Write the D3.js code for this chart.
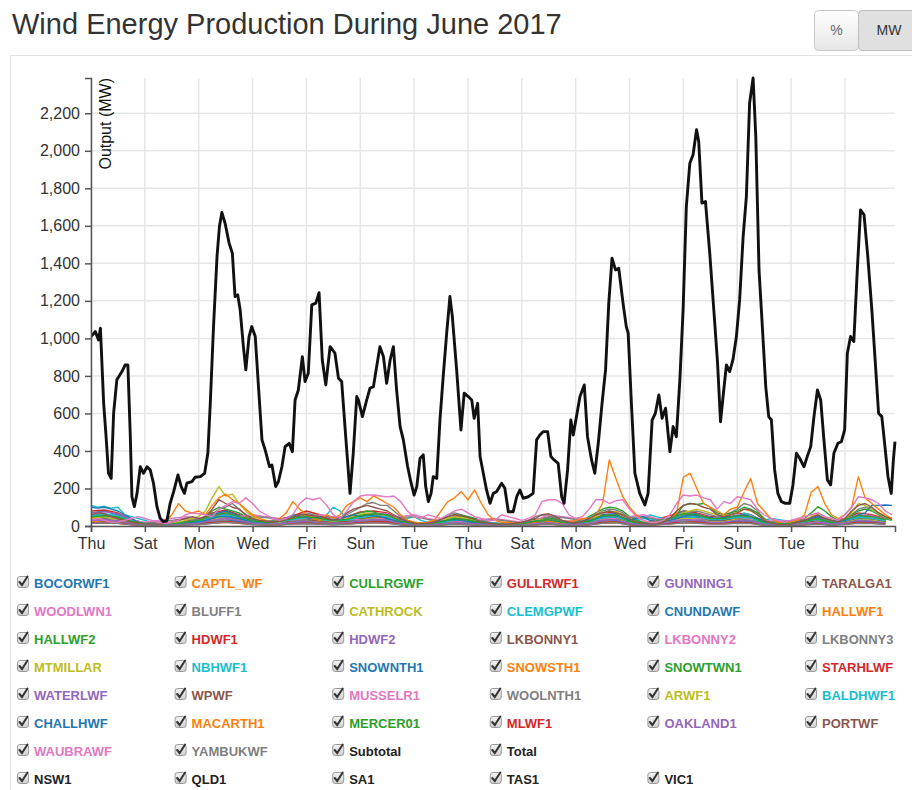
<!DOCTYPE html>
<html>
<head>
<meta charset="utf-8">
<script src="https://cdn.jsdelivr.net/npm/d3@7"></script>
<style>
  html, body { margin: 0; padding: 0; background: #fff; }
  svg { display: block; font-family: "Liberation Sans", Arial, Helvetica, sans-serif; }
</style>
</head>
<body>
<svg id="chart" width="912" height="790"></svg>
<script>
// ---------------- DATA ----------------
const titleText = "Wind Energy Production During June 2017";
const yAxisLabel = "Output (MW)";
const yTickValues = [0, 200, 400, 600, 800, 1000, 1200, 1400, 1600, 1800, 2000, 2200];

// Total output: day offset from 1 June 2017 00:00, and MW
const totalDays = [0.00,0.16,0.28,0.35,0.47,0.56,0.65,0.75,0.84,0.96,1.15,1.27,1.37,1.46,1.52,1.61,1.71,1.83,1.95,2.08,2.20,2.32,2.45,2.57,2.69,2.82,2.94,3.07,3.23,3.35,3.47,3.56,3.75,3.87,4.06,4.22,4.34,4.43,4.55,4.68,4.77,4.86,4.98,5.13,5.25,5.35,5.45,5.54,5.66,5.75,5.87,5.97,6.10,6.22,6.35,6.47,6.63,6.72,6.86,6.96,7.09,7.21,7.36,7.48,7.58,7.70,7.85,7.95,8.07,8.20,8.35,8.47,8.59,8.72,8.88,9.06,9.19,9.31,9.46,9.62,9.74,9.87,9.93,10.08,10.24,10.36,10.49,10.61,10.73,10.86,10.98,11.11,11.23,11.35,11.48,11.60,11.76,11.89,12.00,12.10,12.22,12.34,12.43,12.53,12.63,12.71,12.84,12.96,13.08,13.21,13.33,13.42,13.58,13.74,13.86,14.01,14.14,14.23,14.36,14.45,14.57,14.69,14.82,14.94,15.06,15.25,15.37,15.50,15.68,15.81,15.93,16.05,16.24,16.42,16.55,16.67,16.79,16.96,17.08,17.20,17.35,17.48,17.57,17.70,17.82,17.91,18.03,18.16,18.32,18.44,18.59,18.71,18.84,18.98,19.11,19.23,19.35,19.48,19.60,19.76,19.88,19.95,20.07,20.20,20.38,20.57,20.69,20.84,20.96,21.09,21.21,21.34,21.50,21.62,21.74,21.87,21.99,22.11,22.24,22.36,22.49,22.57,22.69,22.82,22.98,23.14,23.27,23.38,23.50,23.60,23.72,23.84,23.97,24.09,24.22,24.34,24.46,24.59,24.69,24.81,24.94,25.06,25.17,25.27,25.39,25.51,25.64,25.79,25.95,26.07,26.20,26.32,26.48,26.60,26.73,26.85,26.98,27.10,27.22,27.35,27.47,27.59,27.74,27.87,27.99,28.09,28.21,28.33,28.46,28.58,28.71,28.85,29.00,29.13,29.25,29.37,29.50,29.60,29.72,29.80,29.86];
const totalMW = [1010,1036,992,1054,655,476,281,254,602,779,823,859,858,476,156,103,174,316,281,316,299,228,103,41,23,28,121,183,272,210,174,228,237,260,263,281,388,654,1063,1436,1596,1671,1614,1508,1454,1223,1232,1152,956,832,1010,1063,1010,743,459,405,316,325,210,237,316,423,441,396,672,725,903,770,814,1179,1188,1244,885,752,956,921,788,770,476,174,388,690,672,583,672,734,743,850,956,903,761,885,956,725,530,459,316,228,165,210,361,379,210,130,174,263,254,565,796,1028,1223,1116,832,512,708,690,672,574,654,370,281,192,121,174,183,228,201,76,76,156,192,148,156,174,459,485,503,503,370,352,334,156,121,299,565,485,583,690,752,476,352,281,441,654,832,1188,1428,1365,1374,1188,1063,1028,654,281,174,112,174,565,601,699,574,628,396,530,476,779,1152,1703,1934,1979,2112,2050,1721,1730,1454,1134,868,556,725,859,823,885,1010,1205,1543,1756,2254,2388,2076,1365,1045,743,583,565,299,174,130,121,121,219,388,361,316,370,423,583,725,672,459,245,219,388,441,450,512,921,1010,983,1365,1685,1659,1436,1152,868,601,583,405,263,174,352,450];

// Wind farms (legend order). Series span 30 days at an even step (6 h or 12 h).
const farmNames = ["BOCORWF1","CAPTL_WF","CULLRGWF","GULLRWF1","GUNNING1","TARALGA1","WOODLWN1","BLUFF1","CATHROCK","CLEMGPWF","CNUNDAWF","HALLWF1","HALLWF2","HDWF1","HDWF2","LKBONNY1","LKBONNY2","LKBONNY3","MTMILLAR","NBHWF1","SNOWNTH1","SNOWSTH1","SNOWTWN1","STARHLWF","WATERLWF","WPWF","MUSSELR1","WOOLNTH1","ARWF1","BALDHWF1","CHALLHWF","MACARTH1","MERCER01","MLWF1","OAKLAND1","PORTWF","WAUBRAWF","YAMBUKWF"];
const extraNames = ["Subtotal","Total"];
const regionNames = ["NSW1","QLD1","SA1","TAS1","VIC1"];

const BOCORWF1 = [70,80,60,30,15,10,10,20,30,50,60,50,30,20,25,40,50,40,30,40,50,60,55,30,15,15,25,40,35,20,15,10,15,25,35,20,20,30,50,55,30,15,25,40,60,55,40,40,50,45,20,15,15,25,40,20,30,50,45,35];
const CAPTL_WF = [40,50,45,20,10,5,10,20,25,50,60,40,20,15,20,35,40,30,25,30,45,55,50,20,10,10,20,30,25,15,10,5,10,20,30,15,15,20,45,50,20,10,20,35,55,50,35,30,45,40,15,10,10,20,30,15,25,45,40,25];
const CULLRGWF = [20,25,22,10,5,3,4,8,10,20,25,18,10,8,10,15,18,15,12,15,20,24,22,10,5,5,10,15,12,8,5,4,5,10,12,8,8,10,20,22,10,5,10,15,24,22,15,15,20,18,8,5,6,10,15,8,12,20,18,12];
const GULLRWF1 = [80,85,70,35,15,8,12,25,35,70,85,60,35,25,35,55,80,60,45,50,75,80,70,35,15,15,30,50,45,25,15,10,15,35,45,25,25,35,70,75,35,15,35,55,80,70,50,50,70,60,25,15,20,35,55,25,40,70,60,40];
const GUNNING1 = [35,40,30,15,8,5,5,10,15,30,35,25,15,10,15,25,30,25,20,25,30,35,30,15,8,8,15,25,20,12,8,5,8,15,20,12,12,15,30,32,15,8,15,25,35,30,25,22,30,28,12,8,10,15,25,12,20,30,28,20];
const TARALGA1 = [50,60,55,25,12,6,8,18,25,50,55,40,25,18,25,40,45,35,30,35,50,60,55,25,12,12,25,40,30,18,12,8,12,25,30,18,18,25,50,50,25,12,25,40,55,50,40,35,50,45,18,12,15,25,40,18,30,50,45,30];
const WOODLWN1 = [30,35,30,15,10,20,10,15,20,35,40,30,20,15,20,30,35,25,20,25,35,40,35,20,10,10,15,25,20,15,10,8,10,20,25,15,15,20,35,35,20,10,20,30,40,35,30,25,35,30,15,10,10,20,25,15,20,35,30,20];
const BLUFF1 = [30,30,25,12,6,4,5,10,15,30,40,30,15,10,12,20,25,20,18,20,35,40,35,15,6,6,12,20,15,10,6,5,6,15,20,10,10,15,35,35,15,6,15,25,40,35,25,25,35,30,10,6,8,15,25,10,20,35,30,20];
const CATHROCK = [35,40,35,15,8,5,6,12,18,40,60,45,20,15,18,30,35,25,20,25,40,45,40,18,8,8,15,25,20,12,8,6,8,18,25,12,12,18,40,40,18,8,18,30,45,40,30,30,40,35,12,8,10,18,30,12,25,40,35,25];
const CLEMGPWF = [110,100,105,95,100,60,50,40,30,20,10,5,5,10,10,15,20,25,40,60,70,60,50,40,30,20,15,15,20,30,40,50,40,30,40,60,100,80,40,30,40,50,60,50,40,30,20,40,50,30,20,15,20,25,30,25,20,15,10,10,10,15,20,15,10,15,20,25,20,15,15,20,25,20,15,20,30,40,40,35,30,20,40,60,50,40,30,25,30,40,45,40,35,30,30,35,40,70,60,40,30,40,35,30,25,20,25,30,35,30,25,30,35,40,50,45,40,35,40,30];
const CNUNDAWF = [25,30,25,12,6,4,5,8,12,25,35,25,12,8,10,18,22,18,14,18,28,32,28,12,6,6,10,18,15,8,5,4,5,12,18,8,8,12,28,30,12,6,12,20,32,28,20,20,28,25,8,5,6,12,20,8,15,28,25,18];
const HALLWF1 = [40,45,40,20,10,6,8,15,25,55,70,50,25,18,20,35,40,30,25,30,45,55,50,20,10,10,18,30,25,15,10,6,10,20,30,15,15,20,50,55,20,10,20,35,60,55,35,35,50,45,15,10,12,20,35,15,30,50,45,30];
const HALLWF2 = [30,35,30,15,8,5,6,12,20,45,55,40,20,14,16,28,32,24,20,24,36,44,40,16,8,8,14,24,20,12,8,5,8,16,24,12,12,16,40,44,16,8,16,28,48,44,28,28,40,36,12,8,10,16,28,12,24,40,36,24];
const HDWF1 = [45,50,40,20,10,6,8,16,25,50,60,45,25,18,22,35,45,35,28,32,48,55,50,22,10,10,18,32,28,16,10,6,10,22,30,16,16,22,48,50,22,10,22,35,55,50,35,35,48,42,16,10,12,22,35,16,28,48,42,28];
const HDWF2 = [35,40,32,16,8,5,6,12,20,40,48,36,20,14,18,28,36,28,22,26,38,44,40,18,8,8,14,26,22,12,8,5,8,18,24,12,12,18,38,40,18,8,18,28,44,40,28,28,38,34,12,8,10,18,28,12,22,38,34,22];
const LKBONNY1 = [35,40,35,18,8,5,6,12,20,40,55,40,20,15,18,30,35,28,22,26,45,55,50,20,8,8,15,28,22,14,8,5,8,18,26,14,14,20,45,50,20,8,18,30,50,45,30,30,45,40,14,8,10,18,30,14,25,45,40,25];
const LKBONNY2 = [50,55,45,25,12,6,10,20,30,60,75,55,30,20,25,40,50,40,30,35,60,70,65,25,12,12,22,40,30,18,12,6,12,25,35,18,18,25,60,65,25,12,25,40,70,65,40,40,60,55,18,12,15,25,40,18,35,60,55,35];
const LKBONNY3 = [30,40,35,30,20,15,10,10,5,5,5,10,20,30,40,30,20,30,60,90,100,120,90,60,40,30,20,15,20,30,50,60,70,60,50,40,30,40,60,80,100,120,125,110,110,80,50,30,20,15,10,20,40,60,70,60,50,40,30,20,15,10,10,15,20,30,50,60,55,40,30,20,20,30,40,60,80,90,85,70,40,20,15,10,10,20,40,60,80,75,80,70,60,50,60,70,90,120,110,80,40,20,10,10,10,20,30,40,50,40,30,20,30,60,90,100,90,70,50,40];
const MTMILLAR = [30,35,30,15,8,5,6,10,18,35,50,35,18,12,15,25,30,22,18,22,38,45,40,18,8,8,12,22,18,10,8,5,6,15,22,10,10,15,38,42,15,8,15,25,42,38,25,25,38,32,12,8,8,15,25,12,20,38,32,22];
const NBHWF1 = [60,65,55,30,15,8,10,20,30,45,55,45,30,25,30,45,55,45,35,40,50,55,50,30,15,15,25,40,35,20,15,10,15,30,35,20,20,25,40,45,30,40,35,35,50,45,35,35,45,40,20,25,20,25,35,20,30,40,40,30];
const SNOWNTH1 = [40,45,40,20,10,5,8,15,25,60,80,55,25,18,22,38,45,35,28,32,55,65,60,22,10,10,18,32,28,16,10,5,10,22,32,16,16,22,60,65,22,10,22,38,70,65,38,38,55,50,16,10,12,22,38,16,30,55,50,32];
const SNOWSTH1 = [35,40,35,18,8,5,6,12,20,50,70,50,22,16,20,34,40,30,24,28,50,60,55,20,8,8,16,28,24,14,8,5,8,20,28,14,14,20,55,60,20,8,20,34,65,60,34,34,50,45,14,8,10,20,34,14,28,50,45,28];
const SNOWTWN1 = [50,60,55,40,30,20,15,10,10,8,5,5,10,15,20,25,30,50,80,100,90,80,70,50,30,20,20,25,30,40,50,60,50,40,45,40,30,20,40,60,70,80,75,60,50,40,30,20,15,10,15,20,30,50,60,55,50,40,25,15,10,10,5,10,10,20,30,40,45,35,20,15,20,30,50,70,90,100,95,80,50,30,20,10,10,15,30,60,110,120,115,120,100,70,60,70,80,100,90,70,40,20,10,5,10,20,40,70,103,80,50,30,40,60,80,90,80,60,40,30];
const STARHLWF = [18,20,18,8,4,3,3,6,10,20,25,18,10,7,8,14,16,12,10,12,20,24,22,8,4,4,7,12,10,6,4,3,4,8,12,6,6,8,20,22,8,4,8,14,24,22,14,14,20,18,6,4,5,8,14,6,12,20,18,12];
const WATERLWF = [70,75,65,35,15,8,10,22,30,55,65,50,30,22,28,45,55,45,35,40,55,65,60,30,15,15,25,40,35,20,12,8,12,28,35,20,20,28,55,60,28,12,28,45,65,60,45,40,55,50,20,12,15,28,45,20,35,55,50,35];
const WPWF = [30,35,30,15,8,5,6,12,18,45,60,40,20,14,16,28,34,26,20,24,40,50,45,18,8,8,14,26,20,12,8,5,8,18,26,12,12,18,45,50,18,8,18,30,55,50,30,30,45,40,12,8,10,18,30,12,25,45,40,26];
const MUSSELR1 = [60,50,40,30,20,30,40,50,40,30,35,50,60,50,40,30,40,60,50,40,30,35,40,50,60,40,30,20,25,35,40,30,20,30,60,50,40,30,35,40,50,60,40,30,30,35,40,50,45,35,30,25,30,40,35,30,40,50,45,40];
const WOOLNTH1 = [50,40,35,25,15,20,30,40,35,25,30,40,50,45,35,25,35,50,45,35,25,30,35,45,50,35,25,15,20,30,35,25,15,25,50,45,35,25,30,35,45,50,35,25,25,30,35,45,40,30,25,20,25,35,30,25,35,45,40,35];
const ARWF1 = [40,45,50,40,30,25,15,10,5,5,5,10,15,20,30,40,50,80,150,210,160,170,120,80,50,30,20,15,20,30,40,50,60,50,40,30,25,30,40,50,60,70,65,60,50,40,25,15,10,10,15,20,30,40,50,45,40,30,20,10,5,5,10,10,15,20,30,35,30,25,20,15,15,20,30,50,70,80,75,60,40,20,10,10,10,20,30,50,70,80,90,80,70,60,55,60,70,90,80,60,30,15,10,5,10,15,30,50,70,50,30,20,40,70,120,110,90,70,50,30];
const BALDHWF1 = [55,60,50,25,12,6,8,16,25,45,60,45,25,18,22,35,45,35,28,32,45,55,50,22,10,10,18,32,28,16,10,6,10,22,30,16,16,22,45,50,22,10,22,35,55,50,35,35,48,42,16,10,12,22,35,16,28,48,42,28];
const CHALLHWF = [100,95,100,90,80,60,40,20,10,10,5,5,10,10,15,20,20,30,40,50,50,45,40,30,20,15,15,20,30,40,60,50,45,40,50,40,30,40,50,60,50,60,55,50,40,30,20,15,10,10,15,20,25,30,35,30,25,20,15,10,10,5,5,10,15,20,25,30,30,25,20,15,15,20,30,40,50,60,55,45,30,40,50,30,20,25,30,40,50,60,55,50,45,40,45,50,55,60,50,40,25,15,10,10,15,20,30,40,50,40,30,25,30,45,60,70,110,110,112,110];
const MACARTH1 = [20,25,30,20,15,10,10,5,5,5,10,20,60,120,80,70,80,60,110,150,170,140,120,90,60,40,30,20,40,70,130,90,60,40,30,60,40,60,110,130,150,130,160,140,120,100,60,30,20,15,20,30,80,130,150,183,140,192,120,60,30,20,20,15,10,15,20,30,25,20,15,20,30,40,40,60,120,352,250,156,100,60,30,20,20,30,40,70,260,281,200,120,100,80,60,90,100,180,254,120,80,40,20,15,20,30,60,180,210,120,60,40,60,100,263,150,120,90,60,40];
const MERCER01 = [50,55,48,25,12,6,10,20,30,55,70,50,28,20,25,40,50,40,30,35,55,65,60,25,12,12,22,40,32,18,12,6,12,25,35,18,18,25,55,60,25,12,25,40,65,60,40,40,55,50,18,12,15,25,40,18,35,55,50,35];
const MLWF1 = [15,18,15,8,4,2,3,6,8,15,20,15,8,6,7,12,14,10,8,10,16,18,16,8,4,4,6,10,8,5,3,2,3,7,10,5,5,7,16,18,7,3,7,12,18,16,12,12,16,14,5,3,4,7,12,5,10,16,14,10];
const OAKLAND1 = [30,32,28,14,7,4,5,10,15,30,40,30,15,10,12,20,25,18,14,18,28,34,30,14,7,7,10,18,14,9,6,4,6,12,18,9,9,12,30,34,12,6,12,20,34,30,20,20,30,26,9,6,7,12,20,9,16,30,26,18];
const PORTWF = [60,70,65,50,40,30,20,15,10,10,10,15,20,30,40,50,40,50,90,140,120,100,90,60,40,30,25,20,25,35,45,60,60,55,50,40,30,40,70,90,100,110,100,90,80,60,40,25,15,10,15,20,35,50,60,55,45,35,20,15,10,10,10,15,20,30,40,60,65,50,30,20,15,25,40,60,70,80,70,60,40,20,15,10,10,20,40,80,110,120,115,100,90,60,50,60,70,90,85,60,30,15,10,5,10,20,30,45,60,40,30,20,40,80,110,120,100,70,50,35];
const WAUBRAWF = [30,40,30,20,20,30,40,50,40,30,20,15,20,30,60,70,65,60,50,90,110,130,120,150,120,80,60,40,30,40,60,120,150,140,150,110,60,40,80,130,160,165,165,160,155,160,130,80,50,40,60,50,40,60,80,90,70,50,40,30,30,60,50,40,30,40,60,130,140,140,120,60,40,50,90,140,140,120,135,140,90,50,30,20,20,30,60,120,165,160,165,150,140,90,130,120,156,150,140,90,60,40,30,20,30,40,50,60,70,50,40,30,60,100,156,150,140,120,80,60];
const YAMBUKWF = [15,16,14,7,4,2,3,5,8,15,20,15,8,5,6,10,12,9,7,9,14,17,15,7,4,4,5,9,7,4,3,2,3,6,9,4,4,6,15,17,6,3,6,10,17,15,10,10,15,13,4,3,3,6,10,4,8,15,13,9];

const farmData = [BOCORWF1,CAPTL_WF,CULLRGWF,GULLRWF1,GUNNING1,TARALGA1,WOODLWN1,BLUFF1,CATHROCK,CLEMGPWF,CNUNDAWF,HALLWF1,HALLWF2,HDWF1,HDWF2,LKBONNY1,LKBONNY2,LKBONNY3,MTMILLAR,NBHWF1,SNOWNTH1,SNOWSTH1,SNOWTWN1,STARHLWF,WATERLWF,WPWF,MUSSELR1,WOOLNTH1,ARWF1,BALDHWF1,CHALLHWF,MACARTH1,MERCER01,MLWF1,OAKLAND1,PORTWF,WAUBRAWF,YAMBUKWF];
const spanDays = 30;

// ---------------- DRAW ----------------
const svg = d3.select("#chart");
const start = new Date(2017, 5, 1);
const dayToDate = d => new Date(start.getTime() + d * 864e5);

const plot = { left: 91, right: 895, top: 78, bottom: 526 };

// panel
svg.append("rect").attr("x", 10.5).attr("y", 55.5).attr("width", 940).attr("height", 800)
  .attr("fill", "#fff").attr("stroke", "#e2e2e2");

// title
svg.append("text").attr("x", 12).attr("y", 34).attr("font-size", 29).attr("fill", "#333")
  .text(titleText);

// toggle buttons
const defs = svg.append("defs");
const g1 = defs.append("linearGradient").attr("id", "btnGrad").attr("x1", 0).attr("y1", 0).attr("x2", 0).attr("y2", 1);
g1.append("stop").attr("offset", "0%").attr("stop-color", "#ffffff");
g1.append("stop").attr("offset", "100%").attr("stop-color", "#e6e6e6");
const g2 = defs.append("linearGradient").attr("id", "cbGrad").attr("x1", 0).attr("y1", 0).attr("x2", 0).attr("y2", 1);
g2.append("stop").attr("offset", "0%").attr("stop-color", "#f4f4f4");
g2.append("stop").attr("offset", "100%").attr("stop-color", "#cfcfcf");

svg.append("rect").attr("x", 814.5).attr("y", 10.5).attr("width", 44).attr("height", 40).attr("rx", 4)
  .attr("fill", "url(#btnGrad)").attr("stroke", "#c8c8c8");
svg.append("rect").attr("x", 858.5).attr("y", 10.5).attr("width", 70).attr("height", 40).attr("rx", 4)
  .attr("fill", "#e0e0e0").attr("stroke", "#bdbdbd");
svg.append("text").attr("x", 836.5).attr("y", 35).attr("text-anchor", "middle").attr("font-size", 14)
  .attr("fill", "#666").text("%");
svg.append("text").attr("x", 889).attr("y", 35).attr("text-anchor", "middle").attr("font-size", 14)
  .attr("fill", "#333").text("MW");

// scales
const x = d3.scaleTime()
  .domain([start, dayToDate(d3.max(totalDays))])
  .range([plot.left, plot.right]);
const y = d3.scaleLinear()
  .domain([0, d3.max(totalMW)])
  .range([plot.bottom, plot.top]);

// gridlines
const xTicks = x.ticks(d3.timeDay.every(2));
svg.append("g").selectAll("line").data(xTicks).join("line")
  .attr("x1", d => x(d)).attr("x2", d => x(d)).attr("y1", plot.top).attr("y2", plot.bottom)
  .attr("stroke", "#e6e6e6").attr("stroke-width", 1.5);
svg.append("g").selectAll("line").data(yTickValues).join("line")
  .attr("x1", plot.left).attr("x2", plot.right).attr("y1", d => y(d)).attr("y2", d => y(d))
  .attr("stroke", "#e6e6e6").attr("stroke-width", 1.5);

// clip
defs.append("clipPath").attr("id", "plotClip").append("rect")
  .attr("x", plot.left).attr("y", plot.top - 2).attr("width", plot.right - plot.left + 2).attr("height", plot.bottom - plot.top + 2);

const color = d3.scaleOrdinal().domain(farmNames).range(d3.schemeCategory10);

const lines = svg.append("g").attr("clip-path", "url(#plotClip)");
farmNames.forEach((name, k) => {
  const vals = farmData[k];
  const step = spanDays / vals.length;
  const line = d3.line().x((v, i) => x(dayToDate(i * step))).y(v => y(v));
  lines.append("path").datum(vals).attr("d", line)
    .attr("fill", "none").attr("stroke", color(name)).attr("stroke-width", 1.4)
    .attr("stroke-linejoin", "round");
});
const totalLine = d3.line().x((v, i) => x(dayToDate(totalDays[i]))).y(v => y(v));
lines.append("path").datum(totalMW).attr("d", totalLine)
  .attr("fill", "none").attr("stroke", "#111").attr("stroke-width", 2.9)
  .attr("stroke-linejoin", "round");

// axes
const yAxis = svg.append("g").attr("transform", `translate(${plot.left},0)`)
  .call(d3.axisLeft(y).tickValues(yTickValues).tickFormat(d3.format(",")).tickSize(6).tickPadding(5));
const xAxis = svg.append("g").attr("transform", `translate(0,${plot.bottom})`)
  .call(d3.axisBottom(x).ticks(d3.timeDay.every(2)).tickFormat(d3.timeFormat("%a")).tickSize(6).tickPadding(6));
[yAxis, xAxis].forEach(a => {
  a.selectAll("path, line").attr("stroke", "#555").attr("stroke-width", 1.5);
  a.selectAll("text").attr("font-size", 16).attr("fill", "#333")
    .attr("font-family", "'Liberation Sans', Arial, sans-serif");
});

svg.append("text").attr("transform", "rotate(-90)")
  .attr("x", -plot.top).attr("y", plot.left + 20)
  .attr("text-anchor", "end").attr("font-size", 16).attr("fill", "#111")
  .text(yAxisLabel);

// legend
const legendItems = farmNames.map(n => ({ name: n, fill: color(n) }))
  .concat(extraNames.map(n => ({ name: n, fill: "#222" })));
const positioned = legendItems.map((d, i) => ({ ...d, row: Math.floor(i / 6), col: i % 6 }))
  .concat(regionNames.map((n, i) => ({ name: n, fill: "#222", row: 7, col: i })));

const leg = svg.append("g").selectAll("g").data(positioned).join("g")
  .attr("transform", d => `translate(${17 + d.col * 157.6},${583 + d.row * 28})`);
leg.append("rect").attr("x", 0.5).attr("y", -6.5).attr("width", 11).attr("height", 11).attr("rx", 2.5)
  .attr("fill", "url(#cbGrad)").attr("stroke", "#9a9a9a");
leg.append("path").attr("d", "M2.5,-1 L5,2 L10.5,-6.5")
  .attr("fill", "none").attr("stroke", "#333").attr("stroke-width", 2).attr("stroke-linecap", "round");
leg.append("text").attr("x", 17).attr("y", 0).attr("dy", "0.35em")
  .attr("font-size", 13).attr("font-weight", "bold").attr("fill", d => d.fill)
  .text(d => d.name);
</script>
</body>
</html>
